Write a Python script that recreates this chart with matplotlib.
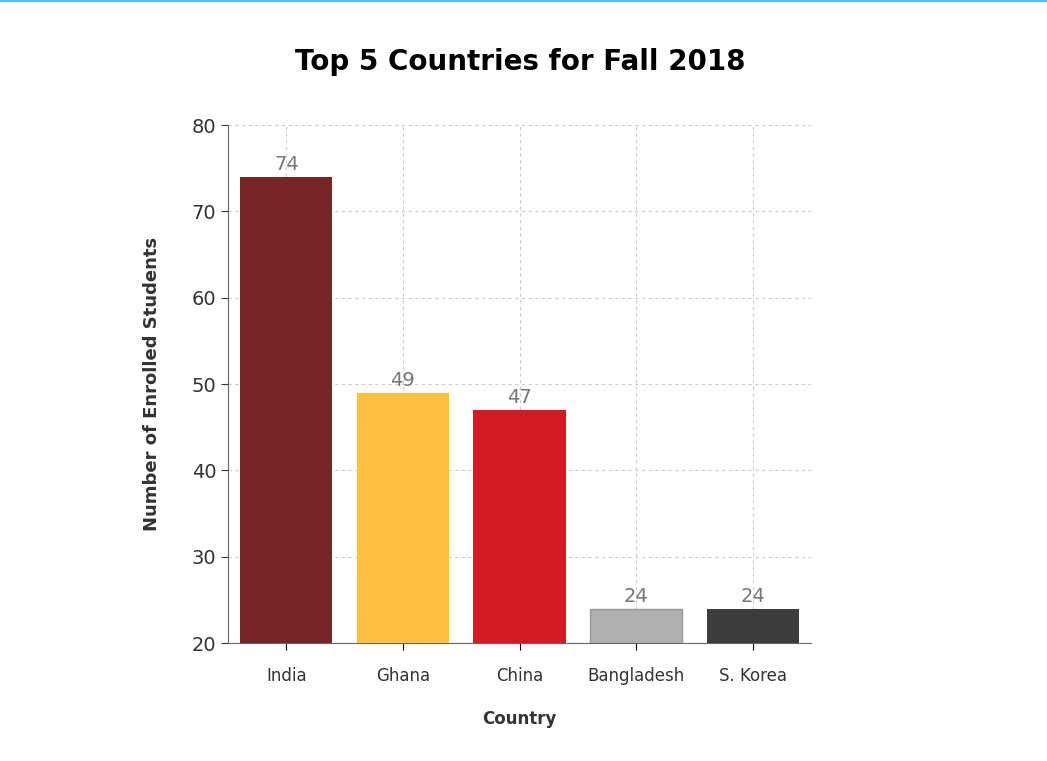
import matplotlib.pyplot as plt
from matplotlib.lines import Line2D

countries = ["India", "Ghana", "China", "Bangladesh", "S. Korea"]
students = [74, 49, 47, 24, 24]
colors = ["#772526", "#FFC040", "#D31A25", "#B0B0B0", "#3D3D3D"]
yticks = [20, 30, 40, 50, 60, 70, 80]

fig = plt.figure(figsize=(10.47, 7.61), dpi=100)
ax = fig.add_axes([0.2178, 0.155, 0.5568, 0.6807])

# thin accent line along the top edge
fig.add_artist(Line2D([0, 1], [0.999, 0.999], color="#29B6F6", lw=1.2))

x = range(len(countries))
bars = ax.bar(x, [v - 20 for v in students], bottom=20, width=0.79,
              color=colors, zorder=3)
bars[3].set_edgecolor("#999999")
for xi, v in zip(x, students):
    ax.text(xi, v + 0.3, str(v), ha="center", va="bottom", fontsize=14,
            color="#777777")

ax.set_xlim(-0.5, len(countries) - 0.5)
ax.set_ylim(20, 80)
ax.set_yticks(yticks)
ax.set_xticks(list(x))
ax.set_xticklabels(countries, fontsize=12, color="#333333")
ax.tick_params(axis="y", labelsize=14, colors="#333333", length=5)
ax.tick_params(axis="x", length=5, pad=12)
ax.grid(True, color="#CCCCCC", linestyle=(0, (3, 3)), lw=0.8, zorder=0)
for s in ["top", "right"]:
    ax.spines[s].set_visible(False)
for s in ["left", "bottom"]:
    ax.spines[s].set_color("#666666")

ax.set_ylabel("Number of Enrolled Students", fontsize=13, fontweight="bold",
              color="#333333", labelpad=22)
ax.set_xlabel("Country", fontsize=12, fontweight="bold", color="#333333",
              labelpad=18)
fig.text(0.497, 0.918, "Top 5 Countries for Fall 2018", ha="center",
         va="center", fontsize=20, fontweight="bold")

fig.savefig("out.png", dpi=100)
